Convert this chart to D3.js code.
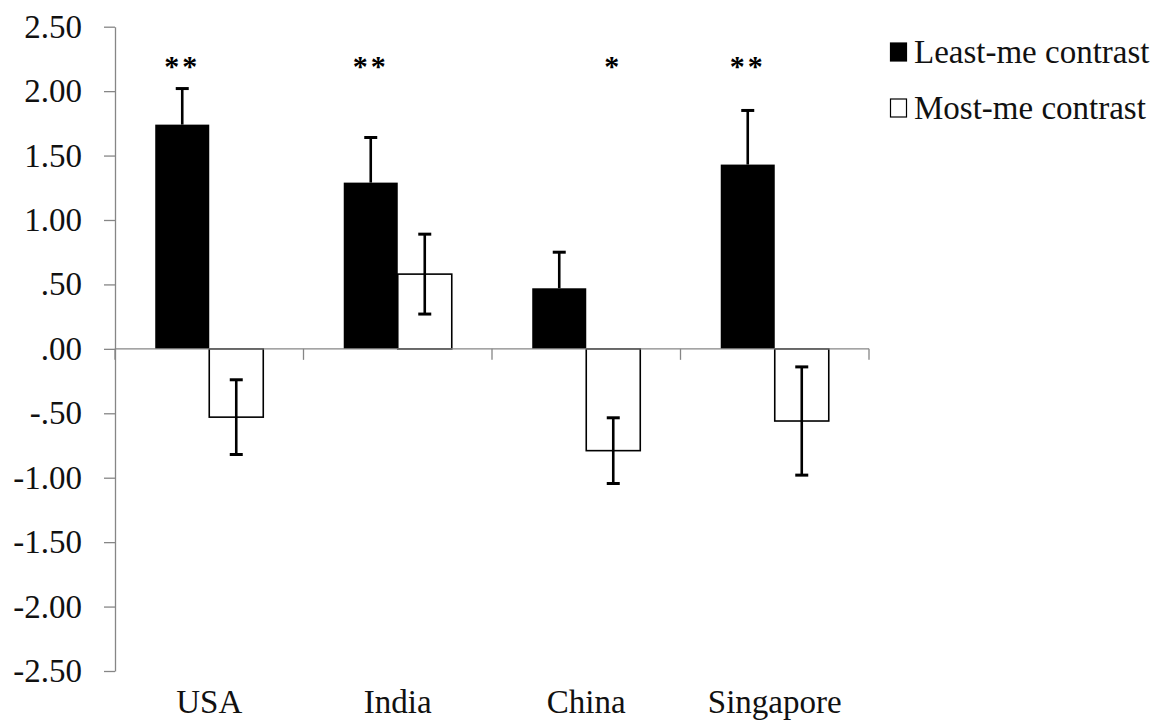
<!DOCTYPE html>
<html><head><meta charset="utf-8">
<script src="https://cdn.jsdelivr.net/npm/d3@7"></script>
<style>
html,body{margin:0;padding:0;background:#fff;}
svg{display:block;font-family:"Liberation Serif","Times New Roman",serif;}
</style></head>
<body>
<svg id="chart" width="1166" height="726"></svg>
<script>
const categories = ["USA", "India", "China", "Singapore"];
const seriesNames = ["Least-me contrast", "Most-me contrast"];
const leastMe = [1.74, 1.29, 0.47, 1.43];
const leastMeErr = [0.28, 0.35, 0.28, 0.42];
const mostMe = [-0.53, 0.58, -0.79, -0.56];
const mostMeErr = [0.29, 0.31, 0.255, 0.42];
const sigLabels = ["**", "**", "*", "**"];
const sigSeries = [0, 0, 1, 0];
const yTicks = [2.5, 2.0, 1.5, 1.0, 0.5, 0, -0.5, -1.0, -1.5, -2.0, -2.5];

const svg = d3.select("#chart");
const x0 = 115, x1 = 869;
const y = d3.scaleLinear().domain([-2.5, 2.5]).range([671, 26.7]);
const x = d3.scaleBand().domain(categories).range([x0, x1]).paddingInner(0).paddingOuter(0);
const xs = d3.scaleBand().domain([0, 1]).range([0, x.bandwidth()]).paddingInner(0).paddingOuter(0.745);

const fmt = v => {
  if (v === 0) return ".00";
  let s = Math.abs(v).toFixed(2);
  if (Math.abs(v) < 1) s = s.slice(1);
  return (v < 0 ? "-" : "") + s;
};

// y axis
const yAxis = svg.append("g").attr("transform", `translate(${x0},0)`)
  .call(d3.axisLeft(y).tickValues(yTicks).tickSize(11).tickSizeOuter(0).tickPadding(22).tickFormat(fmt));
yAxis.attr("font-family", null);
yAxis.select(".domain").attr("stroke", "#868686").attr("stroke-width", 1.3);
yAxis.selectAll(".tick line").attr("stroke", "#868686").attr("stroke-width", 1.3);
yAxis.selectAll(".tick text").attr("font-family", "Liberation Serif, serif")
  .attr("font-size", 33).attr("fill", "#111");

const data = categories.map((c, i) => ({
  cat: c,
  vals: [
    {s: 0, v: leastMe[i], e: leastMeErr[i]},
    {s: 1, v: mostMe[i], e: mostMeErr[i]}
  ]
}));

const g = svg.append("g");
const groups = g.selectAll("g.grp").data(data).join("g")
  .attr("transform", d => `translate(${x(d.cat)},0)`);

groups.selectAll("rect").data(d => d.vals).join("rect")
  .attr("x", d => xs(d.s))
  .attr("width", xs.bandwidth())
  .attr("y", d => y(Math.max(0, d.v)))
  .attr("height", d => Math.abs(y(d.v) - y(0)))
  .attr("fill", d => d.s === 0 ? "#000" : "#fff")
  .attr("stroke", "#000")
  .attr("stroke-width", d => d.s === 0 ? 0 : 1.6);

// x axis (on top of bars)
const xAxisG = svg.append("g").attr("transform", `translate(0,${y(0)})`);
xAxisG.append("line").attr("x1", x0).attr("x2", x1).attr("y1", 0).attr("y2", 0)
  .attr("stroke", "#868686").attr("stroke-width", 1.3);
const bounds = categories.map(c => x(c)).concat([x1]);
xAxisG.selectAll("line.tk").data(bounds).join("line").attr("class", "tk")
  .attr("x1", d => d).attr("x2", d => d).attr("y1", 0).attr("y2", 11)
  .attr("stroke", "#868686").attr("stroke-width", 1.3);

// error bars
const cap = 6.5;
const eb = groups.selectAll("g.eb").data(d => d.vals).join("g").attr("class", "eb");
eb.append("line")
  .attr("x1", d => xs(d.s) + xs.bandwidth() / 2).attr("x2", d => xs(d.s) + xs.bandwidth() / 2)
  .attr("y1", d => y(d.v + d.e)).attr("y2", d => d.s === 0 ? y(d.v) : y(d.v - d.e))
  .attr("stroke", "#000").attr("stroke-width", 2.6);
eb.append("line")
  .attr("x1", d => xs(d.s) + xs.bandwidth() / 2 - cap).attr("x2", d => xs(d.s) + xs.bandwidth() / 2 + cap)
  .attr("y1", d => y(d.v + d.e)).attr("y2", d => y(d.v + d.e))
  .attr("stroke", "#000").attr("stroke-width", 3);
eb.filter(d => d.s === 1).append("line")
  .attr("x1", d => xs(d.s) + xs.bandwidth() / 2 - cap).attr("x2", d => xs(d.s) + xs.bandwidth() / 2 + cap)
  .attr("y1", d => y(d.v - d.e)).attr("y2", d => y(d.v - d.e))
  .attr("stroke", "#000").attr("stroke-width", 3);

// significance labels
svg.append("g").selectAll("text").data(categories).join("text")
  .attr("x", (c, i) => x(c) + xs(sigSeries[i]) + xs.bandwidth() / 2)
  .attr("y", 76)
  .attr("text-anchor", "middle")
  .attr("font-size", 30).attr("font-weight", "bold")
  .attr("letter-spacing", 3)
  .text((c, i) => sigLabels[i]);

// category labels
svg.append("g").selectAll("text").data(categories).join("text")
  .attr("x", c => x(c) + x.bandwidth() / 2)
  .attr("y", 713)
  .attr("text-anchor", "middle")
  .attr("font-size", 33).attr("fill", "#111")
  .text(c => c);

// legend
const leg = svg.append("g");
const legY = [52, 108];
seriesNames.forEach((n, i) => {
  leg.append("rect").attr("x", 890.5).attr("y", legY[i] - 9).attr("width", 16).attr("height", 18)
    .attr("fill", i === 0 ? "#000" : "#fff").attr("stroke", "#000").attr("stroke-width", 1.2);
  leg.append("text").attr("x", 914).attr("y", legY[i] + 11).attr("font-size", 33)
    .attr("fill", "#111").text(n);
});
</script>
</body></html>
